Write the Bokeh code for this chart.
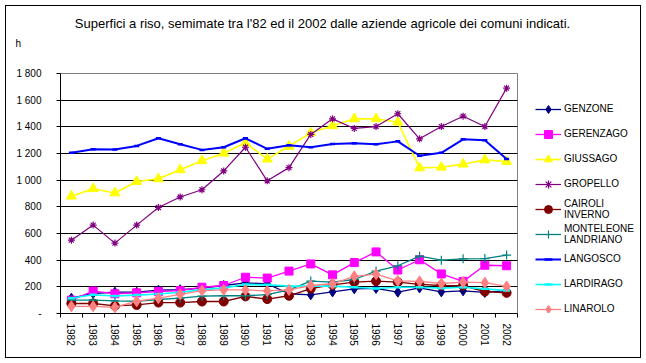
import math
from bokeh.plotting import figure
from bokeh.layouts import column, row
from bokeh.models import (FixedTicker, Legend, LegendItem, Label,
                          Range1d, ColumnDataSource)
from bokeh.embed import file_html
from bokeh.resources import INLINE

years = list(range(1982, 2003))

genzone = [115, 150, 160, 160, 175, 178, 190, 210, 230, 222, 148, 140, 162, 185, 188, 160, 192, 162, 170, 158, 172]
gerenzago = [100, 168, 148, 155, 165, 172, 197, 210, 272, 266, 318, 372, 290, 382, 462, 326, 403, 297, 241, 362, 358]
giussago = [880, 936, 904, 990, 1010, 1078, 1146, 1202, 1280, 1158, 1254, 1355, 1408, 1460, 1460, 1435, 1092, 1097, 1120, 1152, 1140]
gropello = [550, 663, 528, 663, 795, 874, 928, 1069, 1247, 995, 1094, 1343, 1460, 1388, 1402, 1498, 1310, 1402, 1480, 1402, 1690]
cairoli_inverno = [75, 75, 57, 64, 82, 82, 90, 90, 128, 108, 133, 186, 215, 236, 243, 235, 218, 210, 208, 165, 155]
monteleone_landriano = [100, 100, 95, 92, 105, 115, 130, 133, 133, 141, 177, 243, 235, 255, 318, 358, 430, 400, 410, 412, 438]
langosco = [1205, 1232, 1230, 1257, 1314, 1269, 1227, 1247, 1314, 1235, 1262, 1247, 1272, 1277, 1269, 1291, 1183, 1205, 1306, 1299, 1158]
lardirago = [115, 141, 131, 138, 146, 159, 177, 192, 218, 215, 205, 205, 205, 197, 187, 197, 197, 190, 197, 185, 172]
linarolo = [54, 54, 46, 92, 115, 144, 172, 177, 177, 169, 177, 210, 223, 279, 295, 245, 241, 225, 235, 231, 203]

y_ticks = [0, 200, 400, 600, 800, 1000, 1200, 1400, 1600, 1800]
y_tick_labels = ["-", "200", "400", "600", "800", "1 000", "1 200", "1 400", "1 600", "1 800"]

title_text = "Superfici a riso, semimate tra l'82 ed il 2002 dalle aziende agricole dei comuni indicati."
unit_text = "h"

series = [
    ("GENZONE", genzone, "#000080", "diamond", 10, 1.3),
    ("GERENZAGO", gerenzago, "#FF00FF", "square", 8, 1.3),
    ("GIUSSAGO", giussago, "#FFFF00", "triangle", 10, 1.6),
    ("GROPELLO", gropello, "#800080", "asterisk", 7, 1.2),
    ("CAIROLI\nINVERNO", cairoli_inverno, "#800000", "circle", 9, 1.3),
    ("MONTELEONE\nLANDRIANO", monteleone_landriano, "#008080", "cross", 9, 1.3),
    ("LANGOSCO", langosco, "#0000FF", "dash", 5, 2.0),
    ("LARDIRAGO", lardirago, "#00FFFF", "dash", 7, 1.6),
    ("LINAROLO", linarolo, "#FF8080", "diamond", 11, 1.3),
]

FONT = "Liberation Sans"


def bare(fig):
    fig.outline_line_color = None
    fig.background_fill_color = "white"
    fig.border_fill_color = "white"
    fig.grid.visible = False


def add_series(fig, source, i, color, marker, size, lw):
    col = f"s{i}"
    lr = fig.line(x="x", y=col, source=source, line_color=color, line_width=lw)
    if marker in ("dash", "cross", "asterisk"):
        sr = fig.scatter(x="x", y=col, source=source, marker=marker, size=size,
                         line_color=color, line_width=(2.5 if marker == "dash" else 1.2))
    else:
        sr = fig.scatter(x="x", y=col, source=source, marker=marker, size=size,
                         fill_color=color, line_color=color)
    return lr, sr


# --- header strip (title + unit) : page rows 6..61 ---
head = figure(width=634, height=56, output_backend="svg", toolbar_location=None,
              x_axis_type=None, y_axis_type=None, title=None,
              min_border_left=0, min_border_right=0, min_border_top=0, min_border_bottom=0)
bare(head)
head.add_layout(Label(x=316, y=39, x_units="screen", y_units="screen",
                      text=title_text, text_font=FONT, text_font_size="13px",
                      text_baseline="middle", text_align="center", text_color="black"))
head.add_layout(Label(x=9, y=19, x_units="screen", y_units="screen",
                      text=unit_text, text_font=FONT, text_font_size="10px",
                      text_baseline="middle", text_align="left", text_color="black"))

# --- main chart : page x 6..517, rows 62..356 ---
p = figure(width=512, height=295, output_backend="svg", toolbar_location=None,
           x_range=Range1d(1981.5, 2002.5), y_range=Range1d(0, 1800),
           min_border_left=54, min_border_right=1, min_border_top=11, min_border_bottom=44,
           title=None)
p.background_fill_color = "white"
p.border_fill_color = "white"
p.outline_line_color = "#808080"
p.outline_line_width = 1

xa = p.xaxis[0]
xa.ticker = FixedTicker(ticks=years, minor_ticks=[y - 0.5 for y in years] + [years[-1] + 0.5])
xa.major_tick_out = 0
xa.major_tick_in = 0
xa.minor_tick_out = 4
xa.minor_tick_in = 0
xa.minor_tick_line_color = "black"
xa.axis_line_color = "black"
xa.major_label_orientation = -math.pi / 2
xa.major_label_text_font = FONT
xa.major_label_text_font_size = "10px"
xa.major_label_text_color = "black"
xa.major_label_standoff = 6

ya = p.yaxis[0]
ya.ticker = FixedTicker(ticks=y_ticks, minor_ticks=[])
ya.major_label_overrides = {t: l for t, l in zip(y_ticks, y_tick_labels)}
ya.major_tick_out = 4
ya.major_tick_in = 0
ya.major_tick_line_color = "black"
ya.minor_tick_out = 0
ya.axis_line_color = "black"
ya.major_label_text_font = FONT
ya.major_label_text_font_size = "10px"
ya.major_label_text_color = "black"
ya.major_label_standoff = 15

p.xgrid.visible = False
p.ygrid.ticker = FixedTicker(ticks=y_ticks[1:-1])
p.ygrid.grid_line_color = "black"
p.ygrid.grid_line_width = 1

src = ColumnDataSource(dict(x=years, **{f"s{i}": s[1] for i, s in enumerate(series)}))
for i, (name, vals, color, marker, size, lw) in enumerate(series):
    add_series(p, src, i, color, marker, size, lw)

# --- legend panel : page x 518..639, rows 62..356 ---
# its renderers share the data, but its ranges keep them out of view: only the legend shows
leg = figure(width=122, height=295, output_backend="svg", toolbar_location=None,
             x_axis_type=None, y_axis_type=None, title=None,
             x_range=Range1d(0, 1), y_range=Range1d(-20000, -10000),
             min_border_left=0, min_border_right=0, min_border_top=0, min_border_bottom=0)
bare(leg)
items = []
for i, (name, vals, color, marker, size, lw) in enumerate(series):
    lr, sr = add_series(leg, src, i, color, marker, size, lw)
    items.append(LegendItem(label=name, renderers=[lr, sr]))

legend = Legend(items=items, location=(17, -8), orientation="vertical",
                padding=0, margin=0, spacing=0, label_height=25, glyph_height=20,
                glyph_width=26, label_standoff=3,
                label_text_font=FONT, label_text_font_size="10px",
                label_text_line_height=1.1,
                label_text_color="black", border_line_color=None,
                background_fill_alpha=0)
leg.add_layout(legend, "center")

page = column(head, row(p, leg, spacing=0), spacing=0,
              margin=(5, 0, 0, 5), styles={"border": "1px solid black"})

open("out.html", "w").write(file_html(page, INLINE))
